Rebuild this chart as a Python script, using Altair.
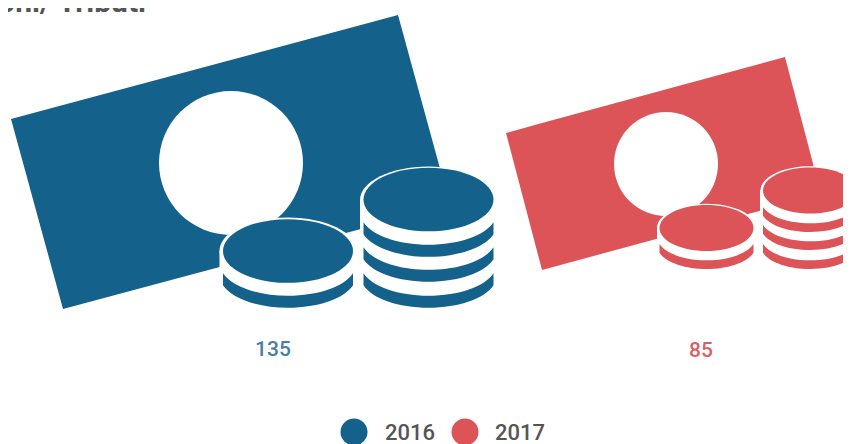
import altair as alt
import pandas as pd

# Coordinates (851x444 pixel grid)
years = ["2016", "2017"]
values = ["135", "85"]
colors = ["#14628c", "#dc5458"]
white = "#ffffff"

note_x = [[11, 63, 398, 450], [506, 542, 785, 821]]
note_top = [[119, 105, 15, 205], [133, 123, 57, 194]]
note_bot = [[119, 309, 219, 205], [133, 270, 204, 194]]

hole_x = [231, 666]
hole_y = [163, 164]
hole_r = [72, 52]

halo_x = [288, 428.5, 706.5, 810]
halo_y = [251, 200, 228, 190.5]
halo_rx = [68.5, 68.5, 49.5, 49.5]

rect_x = [219.5, 360, 657, 760]
rect_x2 = [357, 497, 756, 843]
rect_y = [251, 200, 228, 190]
rect_y2 = [300, 310, 270, 270]

top_x = [288, 428.5, 706.5, 810]
top_y = [251, 199.5, 228, 190.5]
top_rx = [65, 65, 47, 47]
top_c = [0, 0, 1, 1]

cres_x = [288, 428.5, 428.5, 428.5, 706.5, 810, 810, 810]
cres_y = [276, 276, 250, 225, 246, 246, 227, 209]
cres_rx = [65, 65, 65, 65, 47, 47, 47, 47]
cres_c = [0, 0, 0, 0, 1, 1, 1, 1]

label_x = [273, 701]
label_y = [350, 351]
legend_x = [354, 465]
legend_y = [432, 432]
legend_r = [13.5, 13.5]
legend_text_x = [385, 495]
title_text = "oni/ Tributi"
title_x = 146
title_y = 12

ELLIPSE = "M-1,0 A1,0.49 0 1 1 1,0 A1,0.49 0 1 1 -1,0 Z"
CRESCENT = "M-1,-0.041 L-1,0.144 A1.046,0.49 0 0 0 1,0.144 L1,-0.041 A1.046,0.49 0 0 1 -1,-0.041 Z"

X = alt.Scale(domain=[8, 843], nice=False, zero=False)
Y = alt.Scale(domain=[444, 8], nice=False, zero=False)


def xe(f="x"):
    return alt.X(f"{f}:Q", scale=X, axis=None)


def ye(f="y"):
    return alt.Y(f"{f}:Q", scale=Y, axis=None)


def sz(rs):
    return [(2 * r) ** 2 for r in rs]


layers = []

# banknotes
for i in range(2):
    d = pd.DataFrame({"x": note_x[i], "y": note_top[i], "y2": note_bot[i]})
    layers.append(
        alt.Chart(d).mark_area(color=colors[i], interpolate="linear", opacity=1)
        .encode(x=xe(), y=ye(), y2="y2:Q")
    )

# holes
d = pd.DataFrame({"x": hole_x, "y": hole_y, "s": sz(hole_r)})
layers.append(
    alt.Chart(d).mark_point(filled=True, shape="circle", color=white, opacity=1, strokeWidth=0)
    .encode(x=xe(), y=ye(), size=alt.Size("s:Q", scale=None, legend=None))
)

# white halos round the coin stacks
d = pd.DataFrame({"x": rect_x, "x2": rect_x2, "y": rect_y, "y2": rect_y2})
layers.append(
    alt.Chart(d).mark_rect(color=white, opacity=1)
    .encode(x=xe(), x2="x2:Q", y=ye(), y2="y2:Q")
)
d = pd.DataFrame({"x": halo_x, "y": halo_y, "s": sz(halo_rx)})
layers.append(
    alt.Chart(d).mark_point(filled=True, shape=ELLIPSE, color=white, opacity=1, strokeWidth=0)
    .encode(x=xe(), y=ye(), size=alt.Size("s:Q", scale=None, legend=None))
)

# coin edges
d = pd.DataFrame({"x": cres_x, "y": cres_y, "s": sz(cres_rx),
                  "c": [colors[c] for c in cres_c]})
layers.append(
    alt.Chart(d).mark_point(filled=True, shape=CRESCENT, opacity=1, strokeWidth=0)
    .encode(x=xe(), y=ye(), size=alt.Size("s:Q", scale=None, legend=None),
            color=alt.Color("c:N", scale=None, legend=None))
)
# coin faces
d = pd.DataFrame({"x": top_x, "y": top_y, "s": sz(top_rx),
                  "c": [colors[c] for c in top_c]})
layers.append(
    alt.Chart(d).mark_point(filled=True, shape=ELLIPSE, opacity=1, strokeWidth=0)
    .encode(x=xe(), y=ye(), size=alt.Size("s:Q", scale=None, legend=None),
            color=alt.Color("c:N", scale=None, legend=None))
)

# value labels
d = pd.DataFrame({"x": label_x, "y": label_y, "t": values, "c": ["#457ea6", "#dc5f63"]})
layers.append(
    alt.Chart(d).mark_text(font="Roboto", fontSize=21, fontWeight=500, align="center", baseline="middle")
    .encode(x=xe(), y=ye(), text="t:N", color=alt.Color("c:N", scale=None, legend=None))
)

# legend
d = pd.DataFrame({"x": legend_x, "y": legend_y, "s": sz(legend_r), "c": colors})
layers.append(
    alt.Chart(d).mark_point(filled=True, shape="circle", opacity=1, strokeWidth=0)
    .encode(x=xe(), y=ye(), size=alt.Size("s:Q", scale=None, legend=None),
            color=alt.Color("c:N", scale=None, legend=None))
)
d = pd.DataFrame({"x": legend_text_x, "y": legend_y, "t": years})
layers.append(
    alt.Chart(d).mark_text(font="Roboto", fontSize=22, fontWeight=500, align="left", baseline="middle",
                           color="#555555", dy=1)
    .encode(x=xe(), y=ye(), text="t:N")
)

# title, cut by the top of the picture as in the reference
d = pd.DataFrame({"x": [title_x], "y": [title_y], "t": [title_text]})
layers.append(
    alt.Chart(d).mark_text(font="Roboto", fontSize=30, fontWeight=700, align="right", baseline="alphabetic",
                           color="#555558")
    .encode(x=xe(), y=ye(), text="t:N")
)

chart = (
    alt.layer(*layers)
    .properties(width=835, height=436, padding=0, autosize=alt.AutoSizeParams(type="none"), background="white")
    .configure_view(stroke=None)
)

chart.save("out.html", embed_options={"renderer": "svg", "actions": False})
